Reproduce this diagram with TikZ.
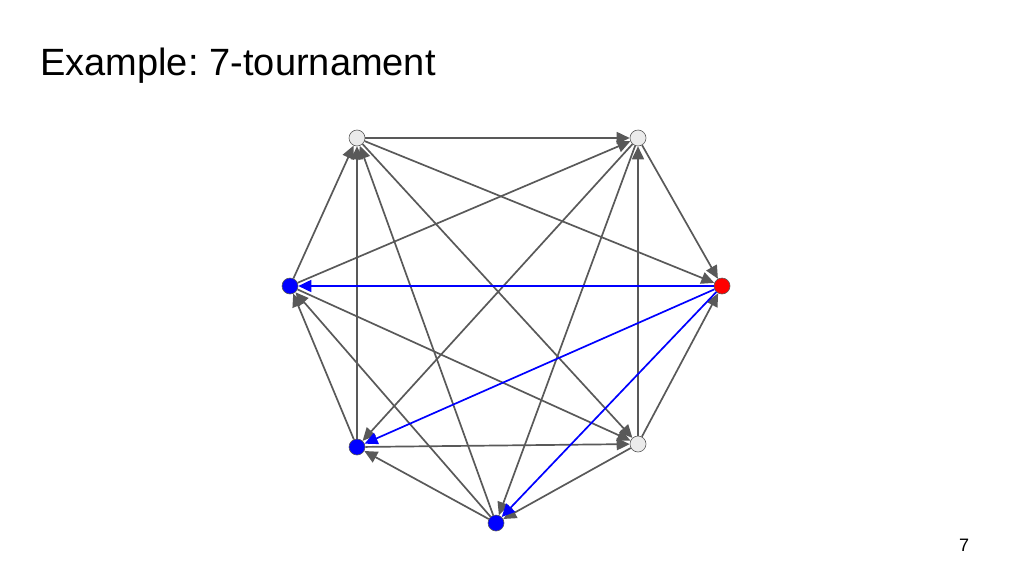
\documentclass[tikz,border=0pt]{standalone}
\usepackage{fontspec}
\setmainfont{Liberation Sans}
\usetikzlibrary{arrows.meta}
\definecolor{eg}{HTML}{595959}
\definecolor{vg}{HTML}{EBEBEB}
\begin{document}
\begin{tikzpicture}[x=1pt,y=-1pt,
  vert/.style={circle,draw=eg,line width=0.6pt,minimum size=16pt,inner sep=0pt},
  ed/.style={draw=eg,line width=1.7pt,-{Triangle[length=13pt,width=12pt]}},
  bed/.style={draw=blue,line width=1.7pt,-{Triangle[length=13pt,width=12pt]}}]
\useasboundingbox (0,0) rectangle (1024,576);
\node[anchor=base west,inner sep=0pt,font=\fontsize{38}{44}\selectfont] (t) at (40,75) {Example:\kern-3pt{} 7-tournament};
\node[anchor=base,inner sep=0pt,font=\fontsize{18}{20}\selectfont] (p) at (964,551) {7};
\node[vert,fill=vg] (A) at (357,138) {};
\node[vert,fill=vg] (B) at (638,138) {};
\node[vert,fill=blue] (C) at (290,286) {};
\node[vert,fill=red] (D) at (722,286) {};
\node[vert,fill=blue] (E) at (357,447) {};
\node[vert,fill=vg] (F) at (638,444) {};
\node[vert,fill=blue] (G) at (496,523) {};
\foreach \a/\b in {A/B,A/D,A/F,B/D,B/E,B/G,C/A,C/B,C/F,E/A,E/C,E/F,F/B,F/D,F/G,G/A,G/C,G/E}
  \draw[ed] (\a) -- (\b);
\foreach \b in {C,E,G}
  \draw[bed] (D) -- (\b);
\end{tikzpicture}
\end{document}
